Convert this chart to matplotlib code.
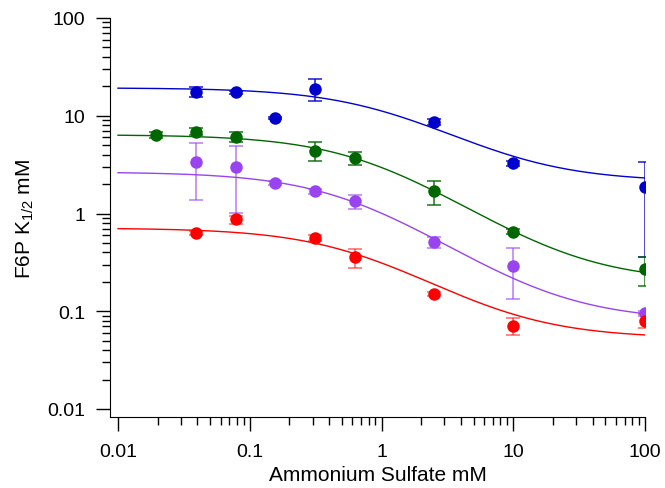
import numpy as np
import matplotlib
matplotlib.use("Agg")
import matplotlib.pyplot as plt
from matplotlib.ticker import FixedLocator, FixedFormatter, NullFormatter

plt.rcParams['font.family'] = ['Liberation Sans', 'DejaVu Sans']
plt.rcParams['mathtext.fontset'] = 'custom'
plt.rcParams['mathtext.rm'] = 'Liberation Sans'
plt.rcParams['mathtext.it'] = 'Liberation Sans:italic'

# ammonium sulfate (mM) - 2x dilutions plus 10 and 100
blue_x = [0.039, 0.078, 0.156, 0.3125, 2.5, 10, 100]
blue_y = [17.6, 17.4, 9.4, 18.8, 8.7, 3.26, 1.85]
blue_err = [1.9, 0.6, 0.2, 4.8, 0.6, 0.2, 1.49]

green_x = [0.0195, 0.039, 0.078, 0.3125, 0.625, 2.5, 10, 100]
green_y = [6.4, 6.9, 6.1, 4.4, 3.67, 1.69, 0.65, 0.27]
green_err = [0.5, 0.6, 0.65, 0.95, 0.55, 0.47, 0.04, 0.09]

purple_x = [0.039, 0.078, 0.156, 0.3125, 0.625, 2.5, 10, 100]
purple_y = [3.34, 2.97, 2.04, 1.69, 1.33, 0.51, 0.29, 0.095]
purple_err = [1.95, 1.95, 0.1, 0.1, 0.23, 0.063, 0.155, 0.005]

red_x = [0.039, 0.078, 0.3125, 0.625, 2.5, 10, 100]
red_y = [0.63, 0.87, 0.56, 0.356, 0.15, 0.071, 0.08]
red_err = [0.03, 0.08, 0.04, 0.077, 0.008, 0.014, 0.013]

# fitted curves: top plateau, bottom plateau, half point
fits = {
    'blue': (19.3, 2.12, 1.12),
    'green': (6.4, 0.2, 0.8),
    'purple': (2.66, 0.08, 0.56),
    'red': (0.71, 0.053, 0.65),
}

colors = {'blue': '#0000cc', 'green': '#006600', 'purple': '#9944ee', 'red': '#ff0000'}
bar_alpha = {'blue': 0.9, 'green': 0.9, 'purple': 0.7, 'red': 0.6}

series = [
    ('blue', blue_x, blue_y, blue_err),
    ('green', green_x, green_y, green_err),
    ('purple', purple_x, purple_y, purple_err),
    ('red', red_x, red_y, red_err),
]

fig = plt.figure(figsize=(6.65, 4.89), dpi=100)
ax = fig.add_axes([110 / 665, 1 - 418 / 489, 535 / 665, 399 / 489])

xs = np.logspace(-2, 2, 300)
for name, x, y, e in series:
    c = colors[name]
    top, bot, k = fits[name]
    ax.plot(xs, bot + (top - bot) / (1 + xs / k), color=c, lw=1.0, zorder=2)
    ax.errorbar(x, y, yerr=e, fmt='none', ecolor=c, elinewidth=1.1,
                capsize=5, capthick=1.1, alpha=bar_alpha[name], zorder=3)
    ax.plot(x, y, 'o', color=c, ms=9, mec='none', zorder=4)

ax.set_xscale('log')
ax.set_yscale('log')
ax.set_xlim(10 ** (-2 - 8 / 131.75), 100)
ax.set_ylim(10 ** (-2 - 8 / 97.75), 100)

major = [0.01, 0.1, 1, 10, 100]
labels = ['0.01', '0.1', '1', '10', '100']
minor = [m * 10.0 ** p for p in range(-2, 2) for m in range(2, 10)]
for axis in (ax.xaxis, ax.yaxis):
    axis.set_major_locator(FixedLocator(major))
    axis.set_major_formatter(FixedFormatter(labels))
    axis.set_minor_locator(FixedLocator(minor))
    axis.set_minor_formatter(NullFormatter())

ax.spines['top'].set_visible(False)
ax.spines['right'].set_visible(False)
ax.tick_params(which='major', length=10, width=1, labelsize=14)
ax.tick_params(axis='x', which='major', pad=9)
ax.tick_params(axis='y', which='major', pad=8)
ax.tick_params(which='minor', length=6, width=1)

ax.set_xlabel('Ammonium Sulfate mM', fontsize=15, labelpad=3)
ax.set_ylabel(r'F6P K$_\mathrm{1/2}$ mM', fontsize=15, labelpad=8)

fig.savefig('out.png', dpi=100)
